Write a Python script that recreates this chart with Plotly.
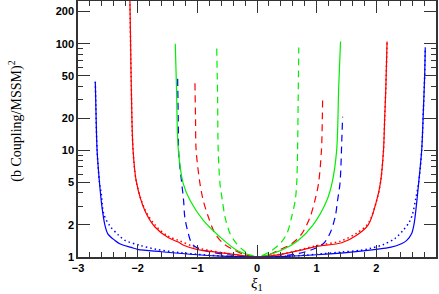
import plotly.graph_objects as go

# ---- data (x = xi_1, y = (b Coupling/MSSM)^2) ----
blue_solid_x = [-2.71, -2.70, -2.68, -2.64, -2.60, -2.55, -2.50, -2.38, -2.30, -2.11, -2.0, -1.6, -1.0, -0.5, 0.0,
                0.5, 1.0, 1.5, 2.0, 2.23, 2.42, 2.51, 2.59, 2.63, 2.67, 2.71, 2.76, 2.79, 2.81, 2.82]
blue_solid_y = [44, 25, 10, 5, 3, 2, 1.65, 1.43, 1.33, 1.23, 1.18, 1.12, 1.05, 1.015, 1.0,
                1.015, 1.05, 1.1, 1.18, 1.23, 1.33, 1.43, 1.65, 2.0, 3.0, 5, 10, 25, 50, 92]

blue_dot_x = [-2.71, -2.70, -2.68, -2.64, -2.61, -2.57, -2.47, -2.32, -2.21, -1.97, -1.69, -1.3, -1.0, -0.5, 0.0,
              0.5, 1.0, 1.4, 1.73, 1.89, 2.12, 2.31, 2.45, 2.55, 2.60, 2.66, 2.71, 2.76, 2.79, 2.81, 2.82]
blue_dot_y = [44, 25, 10, 5, 3.9, 2.55, 1.97, 1.6, 1.43, 1.29, 1.18, 1.1, 1.06, 1.015, 1.0,
              1.015, 1.06, 1.11, 1.155, 1.2, 1.31, 1.49, 1.78, 2.12, 2.45, 3.5, 5, 10, 25, 50, 92]

red_solid_x = [-2.13, -2.11, -2.077, -2.02, -1.88, -1.71, -1.49, -1.32, -1.23, -1.01, -0.79, -0.45, 0.0,
               0.47, 0.72, 1.0, 1.42, 1.67, 1.864, 2.005, 2.07, 2.12, 2.14, 2.16, 2.18]
red_solid_y = [260, 50, 10, 5, 2.73, 1.91, 1.52, 1.38, 1.29, 1.18, 1.13, 1.07, 1.0,
               1.075, 1.155, 1.26, 1.36, 1.6, 2.0, 3.38, 5, 10, 20, 40, 105]

red_dot_x = [-2.13, -2.11, -2.077, -2.02, -1.88, -1.70, -1.50, -1.30, -1.0, -0.5, 0.0,
             0.5, 1.0, 1.4, 1.66, 1.86, 2.005, 2.07, 2.12, 2.14, 2.16, 2.18]
red_dot_y = [260, 50, 10, 5, 2.8, 1.97, 1.58, 1.42, 1.22, 1.08, 1.0,
             1.09, 1.28, 1.41, 1.66, 2.05, 3.38, 5, 10, 20, 40, 105]

green_solid_x = [-1.37, -1.35, -1.318, -1.235, -1.12, -0.90, -0.62, -0.34, -0.12, 0.0,
                 0.19, 0.41, 0.69, 0.94, 1.17, 1.26, 1.335, 1.37, 1.40]
green_solid_y = [100, 40, 10, 4.85, 3.38, 2.2, 1.54, 1.155, 1.04, 1.0,
                 1.05, 1.155, 1.43, 2.0, 3.38, 5, 10, 40, 105]

blue_dash_x = [-1.33, -1.32, -1.31, -1.26, -1.23, -1.21, -1.15, -1.09, -0.98, -0.8, -0.5, 0.0,
               0.4, 0.7, 0.97, 1.11, 1.22, 1.31, 1.35, 1.39, 1.41, 1.42, 1.435]
blue_dash_y = [47, 20, 9, 4.85, 3.38, 2.37, 1.65, 1.33, 1.2, 1.12, 1.05, 1.0,
               1.02, 1.08, 1.2, 1.33, 1.65, 2.37, 3.38, 4.85, 8, 12, 20.6]

red_dash_x = [-1.04, -1.03, -1.02, -0.955, -0.9, -0.815, -0.70, -0.56, -0.37, -0.2, 0.0,
              0.2, 0.36, 0.58, 0.75, 0.89, 0.97, 1.03, 1.08, 1.095, 1.10]
red_dash_y = [42.5, 20, 10, 4.85, 3.38, 2.37, 1.65, 1.33, 1.155, 1.05, 1.0,
              1.05, 1.155, 1.33, 1.65, 2.37, 3.38, 4.85, 10, 20, 31]

green_dash_x = [-0.675, -0.66, -0.65, -0.62, -0.58, -0.536, -0.45, -0.34, -0.23, -0.12, 0.0,
                0.12, 0.25, 0.385, 0.50, 0.58, 0.64, 0.665, 0.68, 0.69, 0.70]
green_dash_y = [90, 30, 10, 4.85, 3.38, 2.37, 1.65, 1.33, 1.155, 1.05, 1.0,
                1.05, 1.155, 1.33, 1.65, 2.37, 3.38, 4.85, 10, 30, 92]

y_tickvals = [1, 2, 5, 10, 20, 50, 100, 200]
y_minor = [3, 4, 6, 7, 8, 9, 30, 40, 60, 70, 80, 90]
x_tickvals = [-3, -2, -1, 0, 1, 2, 3]
x_ticktext = ["\u22123", "\u22122", "\u22121", "0", "1", "2", "3"]

BLUE, RED, GREEN = "#0000ff", "#ff0000", "#00ee00"
DASH = "7px,5px"
DOT = "1.5px,3px"

fig = go.Figure()
def add(x, y, color, dash="solid", width=1.2):
    fig.add_trace(go.Scatter(x=x, y=y, mode="lines",
                             line=dict(color=color, width=width, dash=dash, shape="spline", smoothing=0.9),
                             showlegend=False, hoverinfo="skip"))

add(blue_dot_x, blue_dot_y, BLUE, DOT, 1.5)
add(red_dot_x, red_dot_y, RED, DOT, 1.5)
add(green_dash_x, green_dash_y, GREEN, DASH)
add(red_dash_x, red_dash_y, RED, DASH)
add(blue_dash_x, blue_dash_y, BLUE, DASH)
add(green_solid_x, green_solid_y, GREEN)
add(red_solid_x, red_solid_y, RED)
add(blue_solid_x, blue_solid_y, BLUE)

tickfont = dict(family="Liberation Sans", size=11, color="black", weight="bold")
fig.update_xaxes(range=[-3, 3], tickvals=x_tickvals, ticktext=x_ticktext, automargin=False,
                 ticks="inside", ticklen=12, tickwidth=1, tickcolor="#333",
                 showline=True, linecolor="#333", linewidth=1.5, mirror="allticks",
                 showgrid=False, zeroline=False, tickfont=tickfont,
                 minor=dict(dtick=0.2, ticks="inside", ticklen=5, tickcolor="#333", showgrid=False))
fig.update_yaxes(type="log", range=[0, 2.4], tickvals=y_tickvals, automargin=False,
                 ticktext=[str(v) for v in y_tickvals],
                 ticks="inside", ticklen=12, tickwidth=1, tickcolor="#333",
                 showline=True, linecolor="#333", linewidth=1.5, mirror="allticks",
                 showgrid=False, zeroline=False, tickfont=tickfont,
                 minor=dict(tickvals=y_minor, ticks="inside", ticklen=5, tickcolor="#333", showgrid=False))

fig.add_annotation(text="(b Coupling/MSSM)<sup>2</sup>", textangle=-90,
                   xref="paper", yref="paper", x=-0.175, y=0.53, showarrow=False,
                   xanchor="center", yanchor="middle",
                   font=dict(family="Liberation Serif", size=14, color="black"))
fig.add_annotation(text="<i>\u03be</i><sub>1</sub>",
                   xref="paper", yref="paper", x=0.5, y=-0.143, showarrow=False,
                   xanchor="center", yanchor="bottom", borderpad=0,
                   font=dict(family="Liberation Serif", size=15, color="black"))

fig.update_layout(width=439, height=294, margin=dict(l=78, r=3, t=1, b=37, autoexpand=False),
                  plot_bgcolor="white", paper_bgcolor="white")
fig.write_html("out.html", config={"displayModeBar": False},
               post_script="document.body.style.margin='0px';document.body.style.overflow='hidden';")
